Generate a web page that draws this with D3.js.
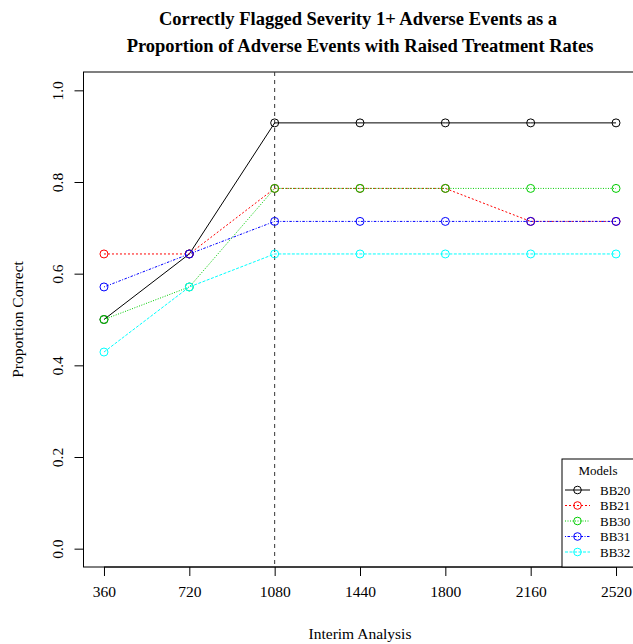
<!DOCTYPE html>
<html>
<head>
<meta charset="utf-8">
<script src="https://cdn.jsdelivr.net/npm/d3@7"></script>
<style>
  html, body { margin: 0; padding: 0; background: #fff; }
  svg { display: block; }
  text { font-family: "Liberation Serif", "Times New Roman", serif; fill: #000; }
</style>
</head>
<body>
<script>
// Interim analysis times (x) and proportion of correctly flagged events per model
const interims = [360, 720, 1080, 1440, 1800, 2160, 2520];
const bb20 = [0.500, 0.643, 0.929, 0.929, 0.929, 0.929, 0.929];
const bb21 = [0.643, 0.643, 0.786, 0.786, 0.786, 0.714, 0.714];
const bb30 = [0.500, 0.571, 0.786, 0.786, 0.786, 0.786, 0.786];
const bb31 = [0.571, 0.643, 0.714, 0.714, 0.714, 0.714, 0.714];
const bb32 = [0.429, 0.571, 0.643, 0.643, 0.643, 0.643, 0.643];
const modelNames = ["BB20", "BB21", "BB30", "BB31", "BB32"];
const yTicks = [0.0, 0.2, 0.4, 0.6, 0.8, 1.0];
const markerX = 1080;

const seriesValues = [bb20, bb21, bb30, bb31, bb32];
const colors = ["#000000", "#FF0000", "#00CD00", "#0000FF", "#00FFFF"];
const dashes = [null, "2,2", "1,1.5", "1,1.5,2.5,1.5", "3,1.5"];

const W = 633, H = 644;
const svg = d3.select("body").append("svg").attr("width", W).attr("height", H);

// Plot region (its right edge sits just past the window)
const pL = 83.5, pR = 636.5, pT = 72, pB = 567;
const baseFont = "15.5px";

const xPad = (2520 - 360) * 0.04;
const x = d3.scaleLinear().domain([360 - xPad, 2520 + xPad]).range([pL, pR]);
const y = d3.scaleLinear().domain([-0.04, 1.04]).range([pB, pT]);

// Title
svg.append("text")
  .attr("x", 358).attr("y", 24.5)
  .attr("text-anchor", "middle")
  .style("font-size", "18.5px").style("font-weight", "bold")
  .text("Correctly Flagged Severity 1+ Adverse Events as a");
svg.append("text")
  .attr("x", 360).attr("y", 51.5)
  .attr("text-anchor", "middle")
  .style("font-size", "18.5px").style("font-weight", "bold")
  .text("Proportion of Adverse Events with Raised Treatment Rates");

// Axes
const xAxis = d3.axisBottom(x).tickValues(interims).tickSize(9).tickPadding(0)
  .tickFormat(d3.format("d"));
const gx = svg.append("g").attr("transform", `translate(0,${pB})`).call(xAxis);
gx.select(".domain").attr("d", `M${x(interims[0])},0H${x(interims[interims.length - 1])}`);
gx.selectAll(".tick text")
  .style("font-size", baseFont).style("font-family", "Liberation Serif")
  .attr("dy", null).attr("y", 30);

const yAxis = d3.axisLeft(y).tickValues(yTicks).tickSize(9).tickFormat(d3.format(".1f"));
const gy = svg.append("g").attr("transform", `translate(${pL},0)`).call(yAxis);
gy.select(".domain").attr("d", `M0,${y(0)}V${y(1)}`);
gy.selectAll(".tick text")
  .style("font-size", baseFont).style("font-family", "Liberation Serif")
  .attr("text-anchor", "middle")
  .attr("x", null).attr("dy", null)
  .attr("transform", "translate(-21,0) rotate(-90)")
  .attr("y", 0);

// Axis titles
svg.append("text")
  .attr("x", (pL + pR) / 2).attr("y", 639)
  .attr("text-anchor", "middle")
  .style("font-size", baseFont)
  .text("Interim Analysis");
svg.append("text")
  .attr("transform", `translate(23,${(pT + pB) / 2}) rotate(-90)`)
  .attr("text-anchor", "middle")
  .style("font-size", baseFont)
  .text("Proportion Correct");

// Plot frame
svg.append("rect")
  .attr("x", pL).attr("y", pT)
  .attr("width", pR - pL).attr("height", pB - pT)
  .attr("fill", "none").attr("stroke", "#000").attr("stroke-width", 1);

// Vertical reference line
svg.append("line")
  .attr("x1", x(markerX)).attr("x2", x(markerX))
  .attr("y1", pT).attr("y2", pB)
  .attr("stroke", "#333").attr("stroke-width", 1)
  .attr("stroke-dasharray", "4,4");

// Series lines and points
const line = d3.line().x((d, i) => x(interims[i])).y(d => y(d));
seriesValues.forEach((vals, k) => {
  svg.append("path")
    .attr("d", line(vals))
    .attr("fill", "none")
    .attr("stroke", colors[k])
    .attr("stroke-width", 1)
    .attr("stroke-dasharray", dashes[k]);
  svg.append("g").selectAll("circle")
    .data(vals).join("circle")
    .attr("cx", (d, i) => x(interims[i]))
    .attr("cy", d => y(d))
    .attr("r", 4)
    .attr("fill", "none")
    .attr("stroke", colors[k])
    .attr("stroke-width", 1);
});

// Legend
const lg = svg.append("g");
lg.append("rect")
  .attr("x", 562).attr("y", 459)
  .attr("width", pR - 562).attr("height", pB - 459)
  .attr("fill", "#fff").attr("stroke", "#000").attr("stroke-width", 1);
lg.append("text")
  .attr("x", 598).attr("y", 475)
  .attr("text-anchor", "middle")
  .style("font-size", "13px")
  .text("Models");
modelNames.forEach((name, k) => {
  const ly = 490 + k * 15.5;
  lg.append("line")
    .attr("x1", 565).attr("x2", 590).attr("y1", ly).attr("y2", ly)
    .attr("stroke", colors[k]).attr("stroke-width", 1)
    .attr("stroke-dasharray", dashes[k]);
  lg.append("circle")
    .attr("cx", 577.5).attr("cy", ly).attr("r", 3.8)
    .attr("fill", "none").attr("stroke", colors[k]).attr("stroke-width", 1);
  lg.append("text")
    .attr("x", 600).attr("y", ly + 4.5)
    .style("font-size", "13px")
    .text(name);
});
</script>
</body>
</html>
